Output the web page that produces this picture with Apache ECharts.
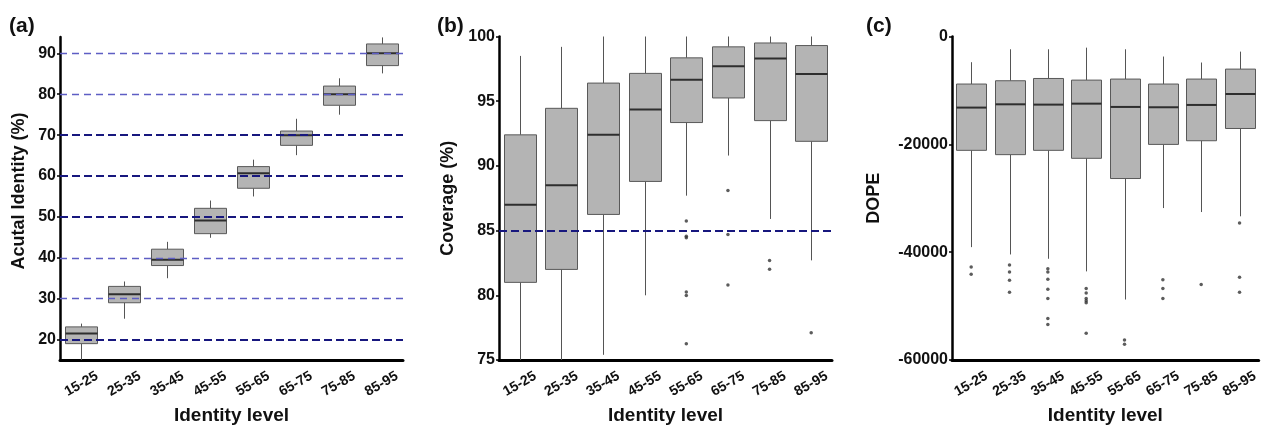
<!DOCTYPE html>
<html>
<head>
<meta charset="utf-8">
<style>
  html, body { margin: 0; padding: 0; background: #fff; }
  #chart { width: 1261px; height: 430px; }
</style>
<script src="https://cdn.jsdelivr.net/npm/echarts@6/dist/echarts.min.js"></script>
</head>
<body>
<div id="chart"></div>
<script>
// Identity-level bins shared by all three panels
const categories = ['15-25', '25-35', '35-45', '45-55', '55-65', '65-75', '75-85', '85-95'];

// Box statistics per bin: [lower whisker, Q1, median, Q3, upper whisker]
const identityStats = [
  [15.0, 19.0, 21.5, 23.1, 23.9],
  [25.1, 29.0, 31.1, 33.0, 34.2],
  [35.0, 38.1, 39.5, 42.1, 43.9],
  [44.9, 45.9, 49.1, 52.1, 54.0],
  [55.0, 57.0, 60.7, 62.3, 64.0],
  [65.1, 67.5, 70.0, 71.0, 74.0],
  [75.0, 77.3, 80.0, 82.0, 83.9],
  [85.1, 87.0, 90.0, 92.3, 93.9]
];
const coverageStats = [
  [75.0, 81.0, 87.0, 92.4, 98.5],
  [75.0, 82.0, 88.5, 94.45, 99.2],
  [75.4, 86.25, 92.4, 96.4, 100],
  [80.0, 88.8, 94.35, 97.15, 100],
  [87.7, 93.35, 96.65, 98.35, 100],
  [90.8, 95.25, 97.7, 99.2, 100],
  [85.9, 93.5, 98.3, 99.5, 100],
  [82.7, 91.9, 97.1, 99.3, 100]
];
const dopeStats = [
  [-39060, -21100, -13170, -8800, -4750],
  [-40420, -21900, -12560, -8190, -2350],
  [-41220, -21100, -12620, -7770, -2350],
  [-43560, -22580, -12440, -8070, -2050],
  [-48780, -26330, -13050, -7880, -2350],
  [-31810, -20000, -13110, -8800, -3700],
  [-32550, -19320, -12680, -7880, -4810],
  [-33340, -17050, -10650, -6030, -2790]
];

// Outlying points per bin
const coverageOutliers = [
  [], [], [], [],
  [85.75, 84.57, 84.45, 80.25, 79.99, 76.25],
  [88.1, 84.7, 80.8],
  [82.68, 82.01],
  [77.1]
];
const dopeOutliers = [
  [-42750, -44110],
  [-42380, -43670, -45220, -47430],
  [-43060, -43670, -45040, -46880, -48600, -52290, -53400],
  [-46750, -47550, -48600, -49020, -49390, -55060],
  [-56290, -57080],
  [-45090, -46750, -48600],
  [-46010],
  [-34580, -44670, -47430]
];

// Axis ticks and reference levels
const identityTicks = [20, 30, 40, 50, 60, 70, 80, 90];
const identityStrongLines = [20, 50, 60, 70];
const identityLightLines = [30, 40, 80, 90];
const coverageLine = [85];

const FONT = 'Liberation Sans, Arial, sans-serif';
const BOX_FILL = '#b4b4b4';
const BOX_EDGE = '#595959';
const WHISKER = '#555555';
const MEDIAN = '#2e2e2e';
const NAVY = '#17177e';
const LIGHT_BLUE = '#5e5ec4';

function crisp(v) { return Math.round(v) + 0.5; }

// Box-and-whisker glyph drawn through the grid's own scales
function renderBox(params, api) {
  const idx = api.value(0);
  const x = crisp(api.coord([idx, api.value(3)])[0]);
  const yLo = api.coord([idx, api.value(1)])[1];
  const yQ1 = api.coord([idx, api.value(2)])[1];
  const yMed = api.coord([idx, api.value(3)])[1];
  const yQ3 = api.coord([idx, api.value(4)])[1];
  const yHi = api.coord([idx, api.value(5)])[1];
  const half = Math.round(api.size([1, 0])[0] * 0.38);
  return {
    type: 'group',
    children: [
      { type: 'line', shape: { x1: x, y1: yQ3, x2: x, y2: yHi }, style: { stroke: WHISKER, lineWidth: 1 } },
      { type: 'line', shape: { x1: x, y1: yQ1, x2: x, y2: yLo }, style: { stroke: WHISKER, lineWidth: 1 } },
      { type: 'rect', shape: { x: x - half, y: yQ3, width: half * 2, height: yQ1 - yQ3 },
        style: { fill: BOX_FILL, stroke: BOX_EDGE, lineWidth: 1 } },
      { type: 'line', shape: { x1: x - half, y1: yMed, x2: x + half, y2: yMed },
        style: { stroke: MEDIAN, lineWidth: 2 } }
    ]
  };
}

function boxData(stats) {
  return stats.map((s, i) => [i].concat(s));
}
function outlierData(groups) {
  const out = [];
  groups.forEach((vals, i) => vals.forEach(v => out.push([categories[i], v])));
  return out;
}

const grids = [
  { left: 60, right: 858, top: 37, bottom: 68 },
  { left: 499, right: 429, top: 36.5, bottom: 68 },
  { left: 952, right: 0, top: 36.6, bottom: 68 }
];

const xAxes = grids.map((g, i) => ({
  type: 'category',
  gridIndex: i,
  data: categories,
  boundaryGap: true,
  name: 'Identity level',
  nameLocation: 'middle',
  nameGap: 46,
  nameTextStyle: { fontFamily: FONT, fontWeight: 'bold', fontSize: 19, color: '#111' },
  axisLine: { show: true, onZero: false, lineStyle: { color: '#000', width: 3 } },
  axisTick: { show: false },
  axisLabel: {
    rotate: 30, align: 'center', verticalAlign: 'middle', margin: 24,
    fontFamily: FONT, fontWeight: 'bold', fontSize: 14, color: '#111', interval: 0
  },
  splitLine: { show: false }
}));

const yCommon = {
  type: 'value',
  nameLocation: 'middle',
  axisLine: { show: true, onZero: false, lineStyle: { color: '#000', width: 2.5 } },
  axisTick: { show: true, length: 3, lineStyle: { color: '#000', width: 1.5 } },
  axisLabel: {
    fontFamily: FONT, fontWeight: 'bold', fontSize: 16, color: '#111', margin: 4,
    formatter: v => String(v)
  },
  splitLine: { show: false }
};

const yAxes = [
  Object.assign({}, yCommon, {
    gridIndex: 0, min: 15, max: 94,
    name: 'Acutal Identity (%)', nameGap: 32,
    nameTextStyle: { fontFamily: FONT, fontWeight: 'bold', fontSize: 18, color: '#111', padding: [0, 0, 0, 15] },
    axisLabel: Object.assign({}, yCommon.axisLabel, { customValues: identityTicks }),
    axisTick: Object.assign({}, yCommon.axisTick, { customValues: identityTicks })
  }),
  Object.assign({}, yCommon, {
    gridIndex: 1, min: 75, max: 100, interval: 5,
    name: 'Coverage (%)', nameGap: 42,
    nameTextStyle: { fontFamily: FONT, fontWeight: 'bold', fontSize: 18, color: '#111' }
  }),
  Object.assign({}, yCommon, {
    gridIndex: 2, min: -60000, max: 0, interval: 20000,
    name: 'DOPE', nameGap: 69,
    nameTextStyle: { fontFamily: FONT, fontWeight: 'bold', fontSize: 18, color: '#111' }
  })
];

function refLine(v, color, width, dash) {
  return { yAxis: v, lineStyle: { color: color, width: width, type: dash } };
}

const identityMarks = identityStrongLines.map(v => refLine(v, NAVY, 2, [8, 4]))
  .concat(identityLightLines.map(v => refLine(v, LIGHT_BLUE, 1.3, [7, 5])));
const coverageMarks = coverageLine.map(v => refLine(v, NAVY, 2, [8, 4]));

const markBase = { silent: true, symbol: ['none', 'none'], label: { show: false }, z: 10 };

const option = {
  animation: false,
  backgroundColor: '#fff',
  title: [
    { text: '(a)', left: 9, top: 16, padding: 0 },
    { text: '(b)', left: 437, top: 16, padding: 0 },
    { text: '(c)', left: 866, top: 16, padding: 0 }
  ].map(t => Object.assign(t, {
    textStyle: { fontFamily: FONT, fontWeight: 'bold', fontSize: 21, color: '#111' }
  })),
  grid: grids,
  xAxis: xAxes,
  yAxis: yAxes,
  series: [
    {
      type: 'custom', xAxisIndex: 0, yAxisIndex: 0,
      renderItem: renderBox, data: boxData(identityStats),
      encode: { x: 0, y: [1, 2, 3, 4, 5] },
      markLine: Object.assign({}, markBase, { data: identityMarks })
    },
    {
      type: 'custom', xAxisIndex: 1, yAxisIndex: 1,
      renderItem: renderBox, data: boxData(coverageStats),
      encode: { x: 0, y: [1, 2, 3, 4, 5] },
      markLine: Object.assign({}, markBase, { data: coverageMarks })
    },
    {
      type: 'scatter', xAxisIndex: 1, yAxisIndex: 1,
      data: outlierData(coverageOutliers),
      symbolSize: 3.5, itemStyle: { color: '#333' }, z: 4
    },
    {
      type: 'custom', xAxisIndex: 2, yAxisIndex: 2,
      renderItem: renderBox, data: boxData(dopeStats),
      encode: { x: 0, y: [1, 2, 3, 4, 5] }
    },
    {
      type: 'scatter', xAxisIndex: 2, yAxisIndex: 2,
      data: outlierData(dopeOutliers),
      symbolSize: 3.5, itemStyle: { color: '#333' }, z: 4
    }
  ]
};

const chart = echarts.init(document.getElementById('chart'), null, { renderer: 'canvas' });
chart.setOption(option);
</script>
</body>
</html>
